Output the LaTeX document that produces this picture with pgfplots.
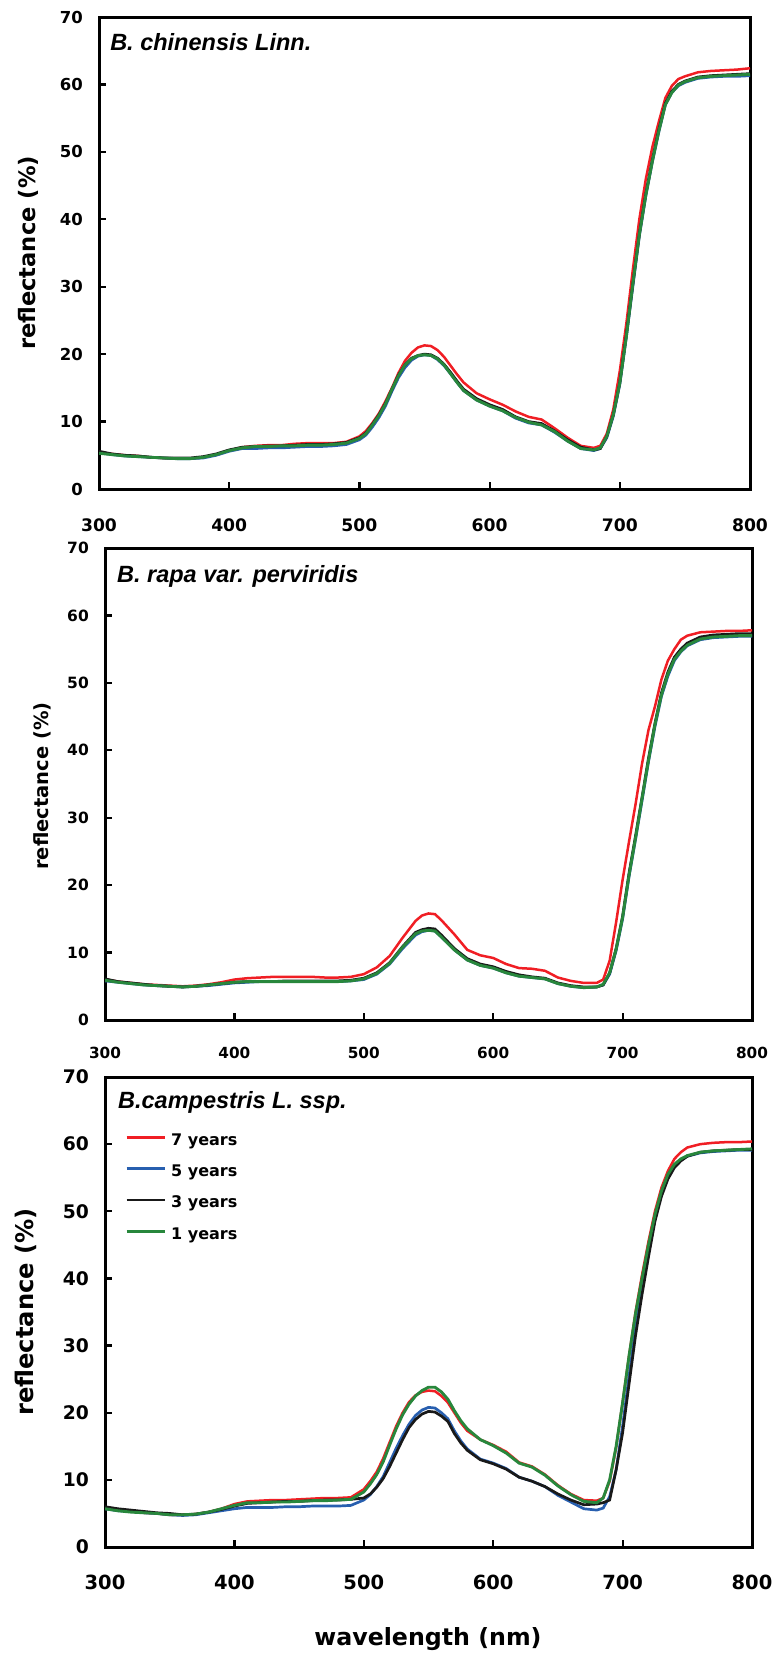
\documentclass[border=0pt]{standalone}
\usepackage{fontspec}
\setmainfont{DejaVu Sans}
\newfontfamily\arialf{Liberation Sans}
\usepackage{pgfplots}
\pgfplotsset{compat=1.18}
\usepackage{pgfplotstable}
\definecolor{c7}{RGB}{240,30,36}
\definecolor{c5}{RGB}{40,95,175}
\definecolor{c3}{RGB}{25,25,25}
\definecolor{c1}{RGB}{40,135,60}
\newcommand\fs[1]{\fontsize{#1}{#1}\selectfont\bfseries}
\newcommand\tf{\arialf\bfseries\itshape\fontsize{23.5bp}{24bp}\selectfont}

\pgfplotstableread{
wl r7 b5 k3 g1
300 5.4 5.4 5.6 5.3
310 5.2 5.1 5.2 5.1
320 5.0 4.9 5.0 4.9
330 4.9 4.8 4.9 4.8
340 4.7 4.7 4.7 4.7
350 4.6 4.6 4.6 4.6
360 4.5 4.5 4.6 4.5
370 4.5 4.5 4.6 4.5
380 4.7 4.6 4.8 4.7
390 5.1 5.0 5.2 5.1
400 5.7 5.6 5.8 5.7
410 6.2 6.0 6.2 6.1
420 6.4 6.0 6.3 6.3
430 6.5 6.1 6.4 6.3
440 6.5 6.1 6.4 6.4
450 6.7 6.2 6.5 6.4
460 6.8 6.3 6.6 6.5
470 6.8 6.3 6.6 6.5
480 6.8 6.4 6.7 6.6
490 7.0 6.6 6.9 6.8
500 7.8 7.3 7.6 7.5
505 8.6 8.0 8.3 8.2
510 9.8 9.2 9.6 9.5
515 11.2 10.6 11.0 10.9
520 13.0 12.3 12.7 12.6
525 15.0 14.5 14.8 14.8
530 17.2 16.5 16.9 16.8
535 19.0 18.0 18.4 18.4
540 20.2 19.1 19.4 19.3
545 21.0 19.7 19.8 19.8
550 21.3 19.9 20.0 19.9
555 21.2 19.8 19.9 19.8
560 20.6 19.2 19.4 19.3
565 19.6 18.3 18.5 18.4
570 18.3 17.1 17.3 17.1
575 17.0 15.8 16.0 15.8
580 15.8 14.6 14.8 14.6
590 14.2 13.2 13.4 13.2
600 13.3 12.3 12.5 12.3
610 12.5 11.6 11.8 11.6
620 11.5 10.5 10.7 10.6
630 10.7 9.8 10.0 9.9
640 10.3 9.5 9.7 9.5
650 9.0 8.4 8.6 8.5
660 7.6 7.1 7.3 7.1
670 6.4 6.0 6.2 6.0
680 6.1 5.7 5.8 5.8
685 6.4 6.0 6.0 6.1
690 8.2 7.6 7.8 7.8
695 11.8 10.8 11.0 11.0
700 17.5 15.5 15.8 15.7
705 24.5 22.5 22.8 22.6
710 32.5 30.0 30.4 30.4
715 40.0 37.5 37.8 37.7
720 46.0 43.5 43.8 43.6
725 50.7 48.5 48.8 48.6
730 54.5 53.0 53.3 53.1
735 58.0 57.0 57.2 57.0
740 59.8 58.8 59.0 58.8
745 60.8 59.8 60.0 59.9
750 61.2 60.3 60.5 60.4
760 61.8 60.9 61.1 61.0
770 62.0 61.1 61.3 61.2
780 62.1 61.2 61.4 61.3
790 62.2 61.2 61.5 61.4
800 62.4 61.3 61.6 61.5
}\tA

\pgfplotstableread{
wl r7 b5 k3 g1
300 6.0 5.8 6.1 5.9
310 5.7 5.6 5.7 5.6
320 5.5 5.4 5.5 5.4
330 5.3 5.2 5.3 5.2
340 5.2 5.1 5.1 5.1
350 5.1 5.0 5.0 5.0
360 5.0 4.9 4.9 4.9
370 5.1 5.0 5.0 5.0
380 5.3 5.1 5.2 5.2
390 5.6 5.3 5.4 5.4
400 6.0 5.5 5.6 5.6
410 6.2 5.6 5.7 5.7
420 6.3 5.7 5.7 5.7
430 6.4 5.7 5.7 5.7
440 6.4 5.7 5.8 5.7
450 6.4 5.7 5.8 5.7
460 6.4 5.7 5.8 5.7
470 6.3 5.7 5.8 5.7
480 6.3 5.7 5.8 5.7
490 6.4 5.8 5.9 5.8
500 6.8 6.0 6.2 6.1
510 7.8 6.8 7.0 6.9
520 9.5 8.3 8.5 8.4
530 12.2 10.6 10.9 10.8
540 14.7 12.6 13.0 12.8
545 15.5 13.1 13.4 13.2
550 15.8 13.3 13.6 13.3
555 15.7 13.2 13.5 13.2
560 14.8 12.3 12.6 12.3
570 12.7 10.4 10.6 10.4
580 10.4 8.9 9.1 8.9
590 9.6 8.1 8.3 8.1
600 9.2 7.7 7.9 7.7
610 8.3 7.0 7.2 7.0
620 7.7 6.5 6.7 6.5
630 7.6 6.3 6.4 6.3
640 7.3 6.1 6.2 6.1
650 6.3 5.4 5.5 5.4
660 5.8 5.0 5.1 5.0
670 5.5 4.8 4.9 4.8
680 5.5 4.9 4.9 4.9
685 6.0 5.2 5.2 5.3
690 8.8 6.8 7.0 7.0
695 14.5 10.3 10.6 10.5
700 20.8 15.0 15.4 15.2
705 26.5 21.3 21.8 21.5
710 32.0 26.8 27.3 27.0
715 38.0 32.5 33.0 32.8
720 43.0 38.3 38.8 38.5
725 46.5 43.5 44.0 43.8
730 50.5 48.0 48.5 48.2
735 53.3 51.0 51.6 51.3
740 55.0 53.3 53.8 53.5
745 56.4 54.6 55.0 54.7
750 57.0 55.5 55.9 55.6
760 57.5 56.4 56.8 56.5
770 57.6 56.7 57.1 56.8
780 57.7 56.8 57.2 56.9
790 57.7 56.9 57.3 57.0
800 57.8 56.9 57.3 57.0
}\tB

\pgfplotstableread{
wl r7 b5 k3 g1
300 5.8 5.7 6.0 5.7
310 5.5 5.4 5.7 5.4
320 5.3 5.3 5.5 5.2
330 5.1 5.1 5.3 5.1
340 5.0 5.0 5.1 5.0
350 4.8 4.8 5.0 4.8
360 4.8 4.7 4.8 4.8
370 4.9 4.8 4.9 4.9
380 5.2 5.1 5.2 5.2
390 5.7 5.4 5.6 5.7
400 6.4 5.7 6.1 6.2
410 6.8 5.9 6.5 6.6
420 6.9 5.9 6.6 6.6
430 7.0 5.9 6.7 6.7
440 7.0 6.0 6.8 6.7
450 7.1 6.0 6.8 6.8
460 7.2 6.1 6.9 6.9
470 7.3 6.1 7.0 6.9
480 7.3 6.1 7.0 7.0
490 7.4 6.2 7.1 7.1
500 8.6 7.0 7.3 8.2
505 9.8 7.8 7.9 9.4
510 11.2 9.0 8.9 10.8
515 13.2 10.5 10.2 12.7
520 15.6 12.6 12.0 15.2
525 18.0 14.7 14.0 17.6
530 20.0 16.6 16.0 19.7
535 21.6 18.3 17.8 21.3
540 22.6 19.6 19.0 22.5
545 23.1 20.4 19.8 23.3
550 23.3 20.8 20.2 23.8
555 23.2 20.7 20.1 23.8
560 22.5 20.0 19.5 23.1
565 21.5 19.1 18.7 22.0
570 20.0 17.3 16.9 20.3
575 18.5 15.8 15.5 18.8
580 17.3 14.6 14.4 17.6
590 16.0 13.1 13.0 16.0
600 15.2 12.5 12.4 15.1
610 14.2 11.7 11.6 14.0
620 12.6 10.4 10.4 12.5
630 12.0 9.8 9.8 11.9
640 10.8 9.0 9.0 10.7
650 9.2 7.7 7.9 9.1
660 7.9 6.7 7.0 7.8
670 7.0 5.7 6.3 6.8
680 6.9 5.5 6.4 6.6
685 7.3 5.8 6.6 7.3
690 9.8 7.5 7.0 10.0
695 14.8 11.5 11.5 15.0
700 21.5 18.0 17.0 21.5
705 28.5 25.5 24.3 28.5
710 35.0 32.5 31.5 34.8
715 40.5 38.5 37.6 40.0
720 45.5 44.0 43.2 45.0
725 50.0 49.0 48.5 49.5
730 53.5 52.5 52.2 53.0
735 56.0 55.0 54.8 55.5
740 57.8 56.6 56.5 57.0
745 58.8 57.6 57.5 57.8
750 59.5 58.2 58.2 58.3
760 60.0 58.7 58.8 58.8
770 60.2 58.9 59.0 59.0
780 60.3 59.0 59.1 59.1
790 60.3 59.1 59.2 59.2
800 60.4 59.1 59.2 59.3
}\tC

\pgfplotsset{
  panel/.style={
    scale only axis, anchor=south west,
    xmin=300, xmax=800, ymin=0, ymax=70,
    xtick={300,400,...,800}, ytick={0,10,...,70},
    tick pos=left, tick align=inside,
    major tick length=7bp,
    every tick/.style={black, line width=2.2bp},
    axis line style={black, line width=3bp},
    /pgf/number format/assume math mode=true,
    yticklabel style={anchor=east, inner sep=0pt, xshift=-16bp},
    xticklabel style={anchor=base, inner sep=0pt},
  },
  l7/.style={c7, line width=2.5bp},
  l5/.style={c5, line width=2.7bp},
  l3/.style={c3, line width=2.7bp},
  l1/.style={c1, line width=2.9bp},
}

\begin{document}
\begin{tikzpicture}
\useasboundingbox (0,0) rectangle (776bp,-1653bp);

% Panel 1
\begin{axis}[panel, at={(99bp,-489bp)}, width=651bp, height=472bp,
  yticklabel style={font=\fs{16.5bp}},
  xticklabel style={font=\fs{17.2bp}, yshift=-42bp}]
\addplot[l7] table[x=wl,y=r7]{\tA};
\addplot[l5] table[x=wl,y=b5]{\tA};
\addplot[l3] table[x=wl,y=k3]{\tA};
\addplot[l1] table[x=wl,y=g1]{\tA};
\node[anchor=base west, inner sep=0pt, font=\tf] at (rel axis cs:0.017,0.930) {B. chinensis Linn.};
\end{axis}

% Panel 2
\begin{axis}[panel, at={(105bp,-1020bp)}, width=647bp, height=472bp,
  yticklabel style={font=\fs{15.5bp}},
  xticklabel style={font=\fs{15.3bp}, yshift=-38.5bp}]
\addplot[l7] table[x=wl,y=r7]{\tB};
\addplot[l5] table[x=wl,y=b5]{\tB};
\addplot[l3] table[x=wl,y=k3]{\tB};
\addplot[l1] table[x=wl,y=g1]{\tB};
\node[anchor=base west, inner sep=0pt, font=\tf] at (rel axis cs:0.0185,0.928) {B. rapa var. perviridis};
\end{axis}

% Panel 3
\begin{axis}[panel, at={(105bp,-1547bp)}, width=647bp, height=470bp,
  yticklabel style={font=\fs{18.7bp}},
  xticklabel style={font=\fs{19.5bp}, yshift=-42bp},
  legend cell align=left,
  legend style={at={(rel axis cs:0.031,0.889)}, anchor=north west, draw=none, fill=none,
    inner xsep=0pt, inner ysep=0pt, font=\fs{16bp}, row sep=15.3bp, column sep=5bp,
    nodes={inner sep=0pt, text height=16bp, text depth=0pt}},
  legend image code/.code={\draw[#1] (0bp,0bp) -- (38bp,0bp);}]
\addplot[l7] table[x=wl,y=r7]{\tC};
\addplot[l5] table[x=wl,y=b5]{\tC};
\addplot[l3] table[x=wl,y=k3]{\tC};
\addplot[l1] table[x=wl,y=g1]{\tC};
\legend{7 years,5 years,3 years,1 years}
\node[anchor=base west, inner sep=0pt, font=\tf] at (rel axis cs:0.020,0.934) {B.campestris L. ssp.};
\end{axis}

\node[rotate=90, font=\fs{22.6bp}] at (28bp,-253bp) {reflectance (\%)};
\node[rotate=90, font=\fs{19.5bp}] at (42.5bp,-786bp) {reflectance (\%)};
\node[rotate=90, font=\fs{24.2bp}] at (26bp,-1312bp) {reflectance (\%)};
\node[anchor=base, inner sep=0pt, font=\fs{23.7bp}] at (428bp,-1645bp) {wavelength (nm)};
\end{tikzpicture}
\end{document}
